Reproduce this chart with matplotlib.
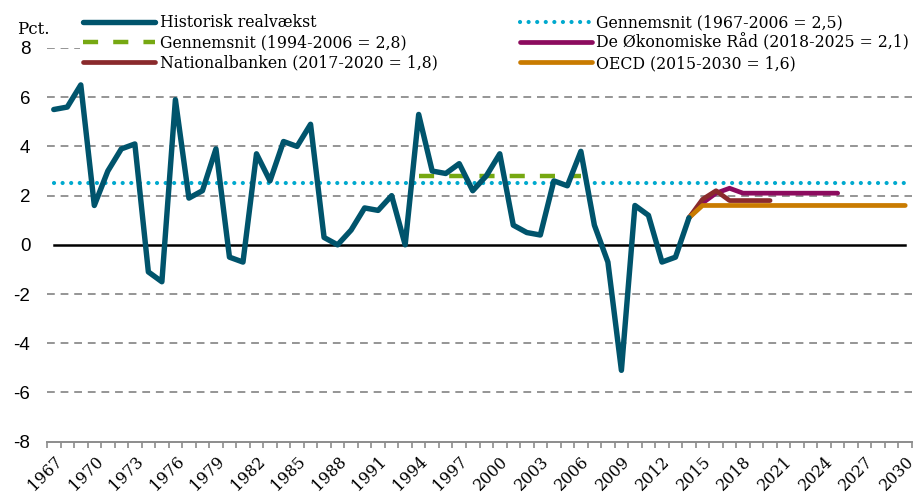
import numpy as np
import matplotlib
matplotlib.use('Agg')
import matplotlib.pyplot as plt
from matplotlib.ticker import FixedLocator

# historic real growth, pct.
years_hist = list(range(1967, 2015))
growth_hist = [5.5, 5.6, 6.5, 1.6, 3.0, 3.9, 4.1, -1.1, -1.5, 5.9,
               1.9, 2.2, 3.9, -0.5, -0.7, 3.7, 2.6, 4.2, 4.0, 4.9,
               0.3, 0.0, 0.6, 1.5, 1.4, 2.0, 0.0, 5.3, 3.0, 2.9,
               3.3, 2.2, 2.8, 3.7, 0.8, 0.5, 0.4, 2.6, 2.4, 3.8,
               0.8, -0.7, -5.1, 1.6, 1.2, -0.7, -0.5, 1.1]

years_avg67 = [1967, 2030]
avg67 = [2.5, 2.5]
years_avg94 = [1994, 2006]
avg94 = [2.8, 2.8]

years_dor = [2014, 2015, 2016, 2017, 2018, 2019, 2020, 2021, 2022, 2023, 2024, 2025]
growth_dor = [1.1, 1.7, 2.1, 2.3, 2.1, 2.1, 2.1, 2.1, 2.1, 2.1, 2.1, 2.1]

years_nb = [2014, 2015, 2016, 2017, 2018, 2019, 2020]
growth_nb = [1.1, 1.85, 2.2, 1.8, 1.8, 1.8, 1.8]

years_oecd = list(range(2014, 2031))
growth_oecd = [1.1] + [1.6] * 16

labels = ['Historisk realvækst',
          'Gennemsnit (1994-2006 = 2,8)',
          'Nationalbanken (2017-2020 = 1,8)',
          'Gennemsnit (1967-2006 = 2,5)',
          'De Økonomiske Råd (2018-2025 = 2,1)',
          'OECD (2015-2030 = 1,6)']

serif = ['DejaVu Serif']
narrow = ['Liberation Sans Narrow', 'Liberation Sans', 'DejaVu Sans']

fig = plt.figure(figsize=(9.18, 4.94), dpi=100)
ax = fig.add_axes([47 / 918, 1 - 441.7 / 494, (912 - 47) / 918, (441.7 - 48) / 494])

# grid
for yv in range(-6, 9, 2):
    if yv == 0:
        continue
    ax.axhline(yv, color='#959595', lw=1.4, dashes=(4, 3), zorder=1)
ax.plot([1967, 2030], [0, 0], color='black', lw=1.8, zorder=2)

h_hist, = ax.plot(years_hist, growth_hist, color='#00546C', lw=3.9,
                  solid_joinstyle='round', solid_capstyle='round', zorder=6)
h67, = ax.plot(years_avg67, avg67, color='#00A9CE', lw=3.0,
               linestyle=(0, (0.01, 2.05)), dash_capstyle='round', zorder=3)
h94, = ax.plot(years_avg94, avg94, color='#76A812', lw=3.2,
               linestyle=(0, (3.4, 3.4)), zorder=4)
h_dor, = ax.plot(years_dor, growth_dor, color='#8C0B5E', lw=3.4,
                 solid_capstyle='round', solid_joinstyle='round', zorder=4)
h_nb, = ax.plot(years_nb, growth_nb, color='#8A2A2C', lw=3.4,
                solid_capstyle='round', solid_joinstyle='round', zorder=5)
h_oecd, = ax.plot(years_oecd, growth_oecd, color='#C97B00', lw=3.4,
                  solid_capstyle='round', solid_joinstyle='round', zorder=5)

ax.set_xlim(1966.5, 2030.5)
ax.set_ylim(-8, 8)

for s in ['top', 'right', 'left']:
    ax.spines[s].set_visible(False)
ax.spines['bottom'].set_color('#8c8c8c')
ax.spines['bottom'].set_linewidth(1.4)

ax.set_yticks(range(-8, 9, 2))
ax.set_yticklabels([str(v) for v in range(-8, 9, 2)], family=narrow, fontsize=13.5)
ax.tick_params(axis='y', length=0, pad=12)

ax.set_xticks(range(1967, 2031, 3))
ax.set_xticklabels([str(v) for v in range(1967, 2031, 3)], family=serif, fontsize=11.5,
                   rotation=45, ha='right', va='top', rotation_mode='anchor')
ax.tick_params(axis='x', which='major', length=0, pad=8)
ax.xaxis.set_minor_locator(FixedLocator(np.arange(1966.5, 2031, 1)))
ax.tick_params(axis='x', which='minor', length=4, width=1.2, color='#8c8c8c')

fig.text(17 / 918, 1 - 30 / 494, 'Pct.', family=serif, fontsize=12, va='center', ha='left')

leg = ax.legend([h_hist, h94, h_nb, h67, h_dor, h_oecd], labels, ncol=2,
                loc='upper left', bbox_to_anchor=(80 / 918, 1 - 11 / 494),
                bbox_transform=fig.transFigure, prop={'family': serif, 'size': 11.3},
                frameon=True, fancybox=False, edgecolor='none', framealpha=1,
                handlelength=4.6, handletextpad=0.3, labelspacing=0.2,
                columnspacing=5.2, borderpad=0.2, borderaxespad=0)
leg.set_zorder(10)

fig.savefig('out.png', dpi=100)
